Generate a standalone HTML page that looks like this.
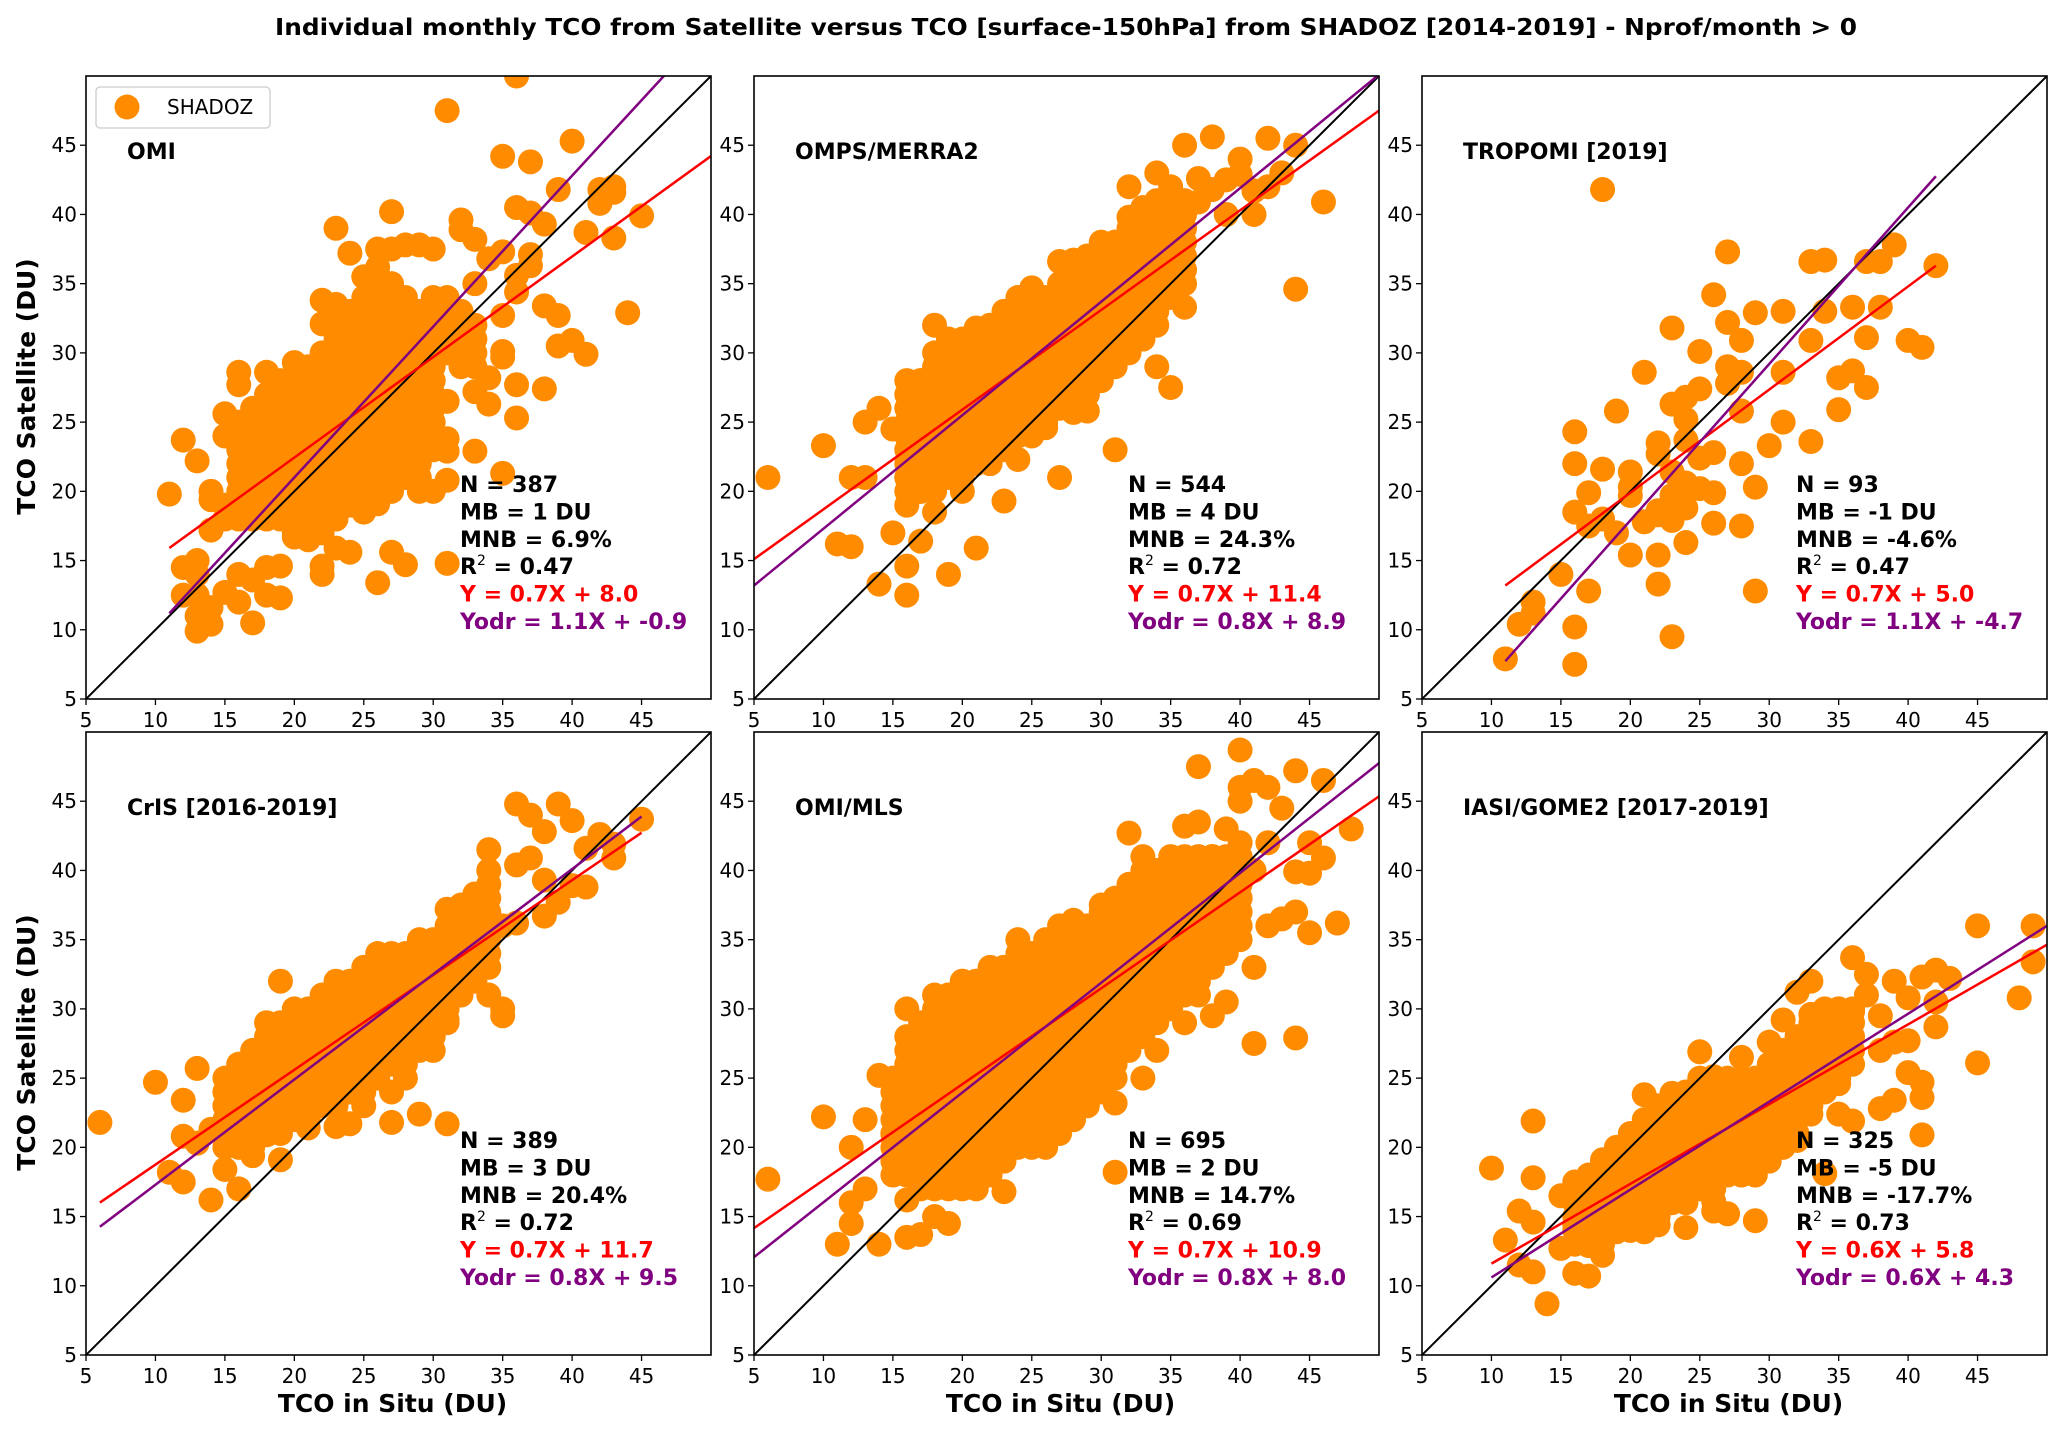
<!DOCTYPE html>
<html><head><meta charset="utf-8">
<style>
html,body{margin:0;padding:0;background:#fff;}
svg{display:block;font-family:"DejaVu Sans","Liberation Sans",sans-serif;}
</style></head>
<body>
<svg id="fig" width="2067" height="1432" viewBox="0 0 2067 1432" xmlns="http://www.w3.org/2000/svg">
<rect width="2067" height="1432" fill="#fff"/>
<text x="1066" y="35" text-anchor="middle" font-size="23" font-weight="bold" textLength="1582" lengthAdjust="spacingAndGlyphs">Individual monthly TCO from Satellite versus TCO [surface-150hPa] from SHADOZ [2014-2019] - Nprof/month &gt; 0</text>
</svg>
<script>
// ---- data ----
const ticks = [5,10,15,20,25,30,35,40,45];
const panelNames = ["OMI","OMPS/MERRA2","TROPOMI [2019]","CrIS [2016-2019]","OMI/MLS","IASI/GOME2 [2017-2019]"];
const statN = ["387","544","93","389","695","325"];
const statMB = ["1","4","-1","3","2","-5"];
const statMNB = ["6.9","24.3","-4.6","20.4","14.7","-17.7"];
const statR2 = ["0.47","0.72","0.47","0.72","0.69","0.73"];
const regLabel = ["0.7X + 8.0","0.7X + 11.4","0.7X + 5.0","0.7X + 11.7","0.7X + 10.9","0.6X + 5.8"];
const odrLabel = ["1.1X + -0.9","0.8X + 8.9","1.1X + -4.7","0.8X + 9.5","0.8X + 8.0","0.6X + 4.3"];
const regSlope = [0.726,0.72,0.745,0.685,0.693,0.576];
const regInt = [7.92,11.5,5.0,11.9,10.7,5.84];
const odrSlope = [1.09,0.82,1.13,0.76,0.793,0.635];
const odrInt = [-0.8,9.1,-4.7,9.7,8.1,4.25];
const lineXmin = [11,5,11,6,5,10];
const lineXmax = [55,55,42,45,55,55];

const omiPts = [[36,50],[31,47.5],[40,45.3],[35,44.2],[37,43.8],[39,41.8],[42,41.8],[43,42],[43,41.6],[42,40.8],[36,40.5],[37,40.1],[45,39.9],[38,39.3],[41,38.7],[43,38.3],[32,39.6],[32,38.9],[33,38.2],[27,40.2],[23,39],[24,37.2],[44,32.9],[38,33.4],[39,32.7],[35,32.7],[39,30.5],[40,30.9],[41,29.9],[35,29.7],[35,30.1],[36,27.7],[38,27.4],[34,28.2],[33,27.2],[34,26.3],[36,25.3],[33,22.9],[35,21.3],[31,14.8],[27,15.6],[28,14.7],[26,13.4],[23,15.9],[24,15.6],[22,14.6],[22,14],[21,16.5],[20,16.7],[19,14.6],[19,12.3],[18,12.5],[18,14.5],[17,10.5],[17,13.6],[16,12],[16,14],[15,12.7],[14,10.4],[13,9.9],[13,11],[14,11.6],[13,12.5],[12,12.5],[12,14.5],[13,15],[13,14],[14,17.2],[14,19.4],[14,20],[11,19.8],[12,23.7],[13,22.2],[16,23.3],[15,25.6],[16,27.7],[16,28.6],[18,28.6],[20,29.3],[31,20.8],[29,20],[30,20],[26,19.1],[25,18.5],[37,36.3],[37,37.1],[36,35.6],[36,34.4],[33,35],[34,36.8],[35,37.3],[30,37.5],[29,37.8],[28,37.8],[27,37.5],[26,37.5],[26,36.2],[25,35.5],[22,33.8],[23,33.5],[22,32.1],[31,26.5],[31,22.9],[31,23.8]];
const omiCoreX = [15,16,17,18,19,20,21,22,23,24,25,26,27,28,29,30,31,32,33];
const omiCoreY = [[18,19,24],[18,19,20,21,22,23,24,25],[18,19,20,21,22,23,24,25,26],[18,19,20,21,22,23,24,25,26,27],[18,19,20,21,22,23,24,25,26,27,28],[17,18,19,20,21,22,23,24,25,26,27,28],[17,18,19,20,21,22,23,24,25,26,27,28,29],[17,18,19,20,21,22,23,24,25,26,27,28,29,30],[18,19,20,21,22,23,24,25,26,27,28,29,30,31,32],[19,20,21,22,23,24,25,26,27,28,29,30,31,32,33],[20,21,22,23,24,25,26,27,28,29,30,31,32,33,34],[20,21,22,23,24,25,26,27,28,29,30,31,32,33,34,35],[20,21,22,23,24,25,26,27,28,29,30,31,32,33,34,35],[21,22,23,24,25,26,27,28,29,30,31,32,33,34],[21,22,23,24,25,26,27,28,29,30,31,32,33],[23,24,25,26,27,28,29,30,31,32,33,34],[30,31,32,33,34],[29,30,31,32,33],[29,30,31,32]];

const ompsPts = [[6,21],[10,23.3],[11,16.2],[12,16],[12,21],[13,21],[13,25],[14,26],[14,13.3],[15,17],[16,12.5],[16,14.6],[17,16.4],[19,14],[21,15.9],[23,19.3],[27,21],[31,23],[35,27.5],[34,29],[44,34.6],[46,40.9],[44,45],[42,45.5],[38,45.6],[36,45],[40,44],[43,43],[35,42],[34,43],[32,42],[37,40.9],[39,40],[41,40],[42,42],[36,33.3],[33,31],[32,30.5],[30,28],[29,27],[28,25.7],[29,25.8],[26,24.6],[24,22.3],[22,23],[20,20],[18,18.5],[17,20],[16,21],[15,24.5],[16,28],[17,28],[18,32],[19,31],[18,30],[20,31],[21,31.8],[22,32],[23,33],[24,34],[25,34.7],[27,36.6],[28,36.7],[30,37.3],[31,38],[32,39.8],[33,40.5],[35,40.7],[37,42.6],[38,41.8],[39,42.5],[40,42.9],[41,41.7]];
const ompsCoreX = [16,17,18,19,20,21,22,23,24,25,26,27,28,29,30,31,32,33,34,35,36];
const ompsCoreY = [[19,20,21,22,23,24,25,26,27],[20,21,22,23,24,25,26,27,28],[20,21,22,23,24,25,26,27,28,29],[21,22,23,24,25,26,27,28,29,30],[21,22,23,24,25,26,27,28,29,30],[22,23,24,25,26,27,28,29,30,31],[22,23,24,25,26,27,28,29,30,31],[23,24,25,26,27,28,29,30,31,32],[24,25,26,27,28,29,30,31,32,33],[24,25,26,27,28,29,30,31,32,33,34],[25,26,27,28,29,30,31,32,33,34],[26,27,28,29,30,31,32,33,34,35],[26,27,28,29,30,31,32,33,34,35,36],[27,28,29,30,31,32,33,34,35,36,37],[28,29,30,31,32,33,34,35,36,37,38],[29,30,31,32,33,34,35,36,37,38],[30,31,32,33,34,35,36,37,38,39],[31,32,33,34,35,36,37,38,39,40],[32,33,34,35,36,37,38,39,40,41],[34,35,36,37,38,39,40,41],[35,36,37,38,39,40,41]];

const tropPts = [[11,7.9],[12,10.4],[13,12],[13,11.2],[15,14],[16,10.2],[16,7.5],[17,12.8],[16,24.3],[16,22],[16,18.5],[17,19.9],[17,17.5],[18,21.6],[18,18],[18,41.8],[19,25.8],[19,17],[20,21.4],[20,20.3],[20,19.7],[20,15.4],[21,28.6],[21,17.8],[22,23.5],[22,22.7],[22,18.6],[22,15.4],[22,13.3],[23,31.8],[23,26.3],[23,21.4],[23,19.7],[23,17.9],[23,9.5],[24,26.8],[24,25.2],[24,23.7],[24,20.6],[24,18.8],[24,16.3],[25,30.1],[25,27.4],[25,22.4],[25,20.2],[26,34.2],[26,22.8],[26,19.9],[26,17.7],[27,37.3],[27,32.2],[27,29],[27,27.8],[28,30.9],[28,28.6],[28,25.8],[28,22],[28,17.5],[29,32.9],[29,20.3],[29,12.8],[30,23.3],[31,33],[31,28.6],[31,25],[33,36.6],[33,30.9],[33,23.6],[34,36.7],[34,33],[35,28.2],[35,25.9],[36,33.3],[36,28.7],[37,36.6],[37,31.1],[37,27.5],[38,36.6],[38,33.3],[39,37.8],[40,30.9],[41,30.4],[42,36.3],[23,19],[24,20],[22,18.3],[23,18.5]];
const tropCoreX = [];
const tropCoreY = [];

const crisPts = [[6,21.8],[10,24.7],[11,18.2],[12,17.5],[12,20.8],[12,23.4],[13,25.7],[13,20.3],[14,16.2],[14,21.3],[15,18.4],[16,17],[16,23],[16,26],[17,19.4],[18,20.9],[19,19.1],[19,32],[21,21.4],[23,21.5],[24,21.7],[27,21.8],[29,22.4],[28,25],[31,21.7],[35,29.5],[35,30],[34,31],[36,44.8],[37,44],[38,42.8],[39,44.8],[40,43.6],[41,41.6],[42,42.6],[43,41.9],[43,40.9],[45,43.7],[41,38.8],[39,37.7],[38,36.7],[36,36.2],[35,36],[33,33],[32,37.5],[33,38.3],[34,41.5],[36,40.4],[37,40.9],[38,39.3],[40,38.9],[34,40],[31,37.2],[30,34.8],[30,31.2],[29,30],[31,29.2],[30,27],[28,26],[27,24],[25,23],[26,25],[23,23],[22,25],[20,23.4]];
const crisCoreX = [15,16,17,18,19,20,21,22,23,24,25,26,27,28,29,30,31,32,33,34];
const crisCoreY = [[20,21,22,23,24,25],[20,21,22,23,24,25,26],[20,21,22,23,24,25,26,27],[21,22,23,24,25,26,27,28,29],[21,22,23,24,25,26,27,28,29],[22,23,24,25,26,27,28,29,30],[22,23,24,25,26,27,28,29,30],[23,24,25,26,27,28,29,30,31],[23,24,25,26,27,28,29,30,31,32],[24,25,26,27,28,29,30,31,32],[24,25,26,27,28,29,30,31,32,33],[25,26,27,28,29,30,31,32,33,34],[26,27,28,29,30,31,32,33,34],[27,28,29,30,31,32,33,34],[27,28,29,30,31,32,33,34,35],[28,29,30,31,32,33,34,35],[29,30,31,32,33,34,35,36],[31,32,33,34,35,36,37],[32,33,34,35,36,37,38],[33,34,35,36,37,38,39]];

const mlsPts = [[6,17.7],[10,22.2],[11,13],[12,14.5],[12,16],[12,20],[13,22],[13,17],[14,13],[14,25.2],[15,21],[16,13.5],[16,16.2],[17,13.7],[18,15],[19,14.5],[16,30],[17,28],[18,31],[19,31],[20,32],[21,32],[23,33],[24,35],[21,17],[23,16.8],[26,20],[28,22],[31,18.2],[31,23.2],[33,25],[34,27],[36,29],[38,29.5],[39,30.5],[41,27.5],[44,27.9],[45,35.5],[47,36.2],[48,43],[46,46.5],[44,47.2],[40,48.7],[40,46],[41,46.5],[42,46],[37,47.5],[36,43.2],[39,43],[42,42],[43,44.5],[45,42],[38,41],[35,40.5],[32,42.7],[33,41],[34,40],[30,37.5],[28,36.4],[27,36],[31,36],[41,33],[42,36],[43,36.5],[37,31],[44,37],[40,38],[41,40],[46,40.9],[45,39.8],[44,39.9],[40,45],[37,43.5]];
const mlsCoreX = [15,16,17,18,19,20,21,22,23,24,25,26,27,28,29,30,31,32,33,34,35,36,37,38,39,40];
const mlsCoreY = [[18,19,20,21,22,23,24,25],[18,19,20,21,22,23,24,25,26,27,28],[17,18,19,20,21,22,23,24,25,26,27,28,29],[17,18,19,20,21,22,23,24,25,26,27,28,29,30],[17,18,19,20,21,22,23,24,25,26,27,28,29,30,31],[17,18,19,20,21,22,23,24,25,26,27,28,29,30,31,32],[18,19,20,21,22,23,24,25,26,27,28,29,30,31,32],[18,19,20,21,22,23,24,25,26,27,28,29,30,31,32,33],[19,20,21,22,23,24,25,26,27,28,29,30,31,32,33],[20,21,22,23,24,25,26,27,28,29,30,31,32,33,34],[20,21,22,23,24,25,26,27,28,29,30,31,32,33,34],[21,22,23,24,25,26,27,28,29,30,31,32,33,34,35],[21,22,23,24,25,26,27,28,29,30,31,32,33,34,35],[22,23,24,25,26,27,28,29,30,31,32,33,34,35,36],[23,24,25,26,27,28,29,30,31,32,33,34,35,36],[24,25,26,27,28,29,30,31,32,33,34,35,36,37],[25,26,27,28,29,30,31,32,33,34,35,36,37,38],[27,28,29,30,31,32,33,34,35,36,37,38,39],[28,29,30,31,32,33,34,35,36,37,38,39,40],[29,30,31,32,33,34,35,36,37,38,39,40],[30,31,32,33,34,35,36,37,38,39,40,41],[31,32,33,34,35,36,37,38,39,40,41],[32,33,34,35,36,37,38,39,40,41],[33,34,35,36,37,38,39,40,41],[34,35,36,37,38,39,40,41],[35,36,37,38,39,40,41,42]];

const iasiPts = [[10,18.5],[11,13.3],[12,15.4],[12,11.5],[13,21.9],[13,17.8],[13,14.6],[13,11],[14,8.7],[15,16.5],[15,12.7],[16,17.5],[16,14.4],[16,10.9],[17,10.7],[17,12.9],[18,12.2],[18,19.1],[19,19.6],[19,13.9],[21,23.8],[21,13.9],[22,22.9],[22,14.4],[23,23.9],[24,14.2],[25,26.9],[26,25.1],[26,16.1],[26,15.4],[27,15.2],[28,26.5],[29,14.7],[30,27.6],[31,29.2],[32,31.2],[33,32],[33,29.6],[32,20.5],[33,22.4],[34,18.1],[35,30],[35,24.6],[35,22.4],[36,33.7],[36,29.8],[36,21.9],[37,32.5],[37,31],[38,29.5],[38,27],[38,22.8],[39,32],[39,27.6],[39,23.4],[40,27.7],[40,25.4],[40,30.8],[41,32.3],[41,24.7],[41,23.6],[41,20.9],[42,32.8],[42,30.5],[42,28.7],[43,32.2],[45,36],[45,26.1],[48,30.8],[49,36],[49,33.4]];
const iasiCoreX = [16,17,18,19,20,21,22,23,24,25,26,27,28,29,30,31,32,33,34,35,36];
const iasiCoreY = [[13,14,15,16,17],[13,14,15,16,17,18],[13,14,15,16,17,18,19],[14,15,16,17,18,19,20],[14,15,16,17,18,19,20,21],[15,16,17,18,19,20,21,22],[15,16,17,18,19,20,21,22,23],[16,17,18,19,20,21,22,23],[16,17,18,19,20,21,22,23,24],[17,18,19,20,21,22,23,24,25],[17,18,19,20,21,22,23,24,25],[18,19,20,21,22,23,24,25],[18,19,20,21,22,23,24,25],[18,19,20,21,22,23,24,25],[19,20,21,22,23,24,25,26],[20,21,22,23,24,25,26,27],[21,22,23,24,25,26,27,28],[23,24,25,26,27,28,29],[24,25,26,27,28,29,30],[25,26,27,28,29,30],[26,27,28,29,30]];

const allPts = [omiPts,ompsPts,tropPts,crisPts,mlsPts,iasiPts];
const allCoreX = [omiCoreX,ompsCoreX,tropCoreX,crisCoreX,mlsCoreX,iasiCoreX];
const allCoreY = [omiCoreY,ompsCoreY,tropCoreY,crisCoreY,mlsCoreY,iasiCoreY];

// ---- layout ----
const NS = "http://www.w3.org/2000/svg";
const svg = document.getElementById("fig");
const colL = [86,754,1422], rowT = [76,732];
const PW = 625, PH = 623, DMIN = 5, DMAX = 50, R = 12.5;
function mk(tag, attrs, parent){ const e=document.createElementNS(NS,tag); for(const k in attrs) e.setAttribute(k,attrs[k]); (parent||svg).appendChild(e); return e; }

for(let p=0;p<6;p++){
  const L = colL[p%3], T = rowT[Math.floor(p/3)];
  const sx = v => L + (v-DMIN)/(DMAX-DMIN)*PW;
  const sy = v => T + PH - (v-DMIN)/(DMAX-DMIN)*PH;
  const g = mk("g",{});
  
  
  const clip = mk("clipPath",{id:"clip"+p}, g);
  mk("rect",{x:L,y:T,width:PW,height:PH}, clip);
  const plot = mk("g",{"clip-path":"url(#clip"+p+")"}, g);
  const pts = [];
  allPts[p].forEach(d=>pts.push(d));
  allCoreX[p].forEach((x,i)=>allCoreY[p][i].forEach(y=>pts.push([x,y])));
  pts.forEach(d=>{
    const c = mk("circle",{cx:sx(d[0]),cy:sy(d[1]),r:R,fill:"#ff8c00"}, plot);
    
    
  });
  const l1 = mk("line",{x1:sx(DMIN),y1:sy(DMIN),x2:sx(DMAX),y2:sy(DMAX),stroke:"#000","stroke-width":2}, plot);
  
  
  const x0=lineXmin[p], x1=lineXmax[p];
  const lr = mk("line",{x1:sx(x0),y1:sy(regSlope[p]*x0+regInt[p]),x2:sx(x1),y2:sy(regSlope[p]*x1+regInt[p]),stroke:"#ff0000","stroke-width":2.5}, plot);
  
  
  const lo = mk("line",{x1:sx(x0),y1:sy(odrSlope[p]*x0+odrInt[p]),x2:sx(x1),y2:sy(odrSlope[p]*x1+odrInt[p]),stroke:"#800080","stroke-width":2.5}, plot);
  
  
  const fr = mk("rect",{x:L,y:T,width:PW,height:PH,fill:"none",stroke:"#000","stroke-width":1.6}, g);
  
  
  ticks.forEach(t=>{
    mk("line",{x1:sx(t),y1:T+PH,x2:sx(t),y2:T+PH+6,stroke:"#000","stroke-width":1.3}, g);
    const xt = mk("text",{x:sx(t),y:T+PH+28,"text-anchor":"middle","font-size":20}, g);
    xt.textContent = t;
    
    
    mk("line",{x1:L-6,y1:sy(t),x2:L,y2:sy(t),stroke:"#000","stroke-width":1.3}, g);
    const yt = mk("text",{x:L-9,y:sy(t)+7,"text-anchor":"end","font-size":20}, g);
    yt.textContent = t;
    
    
  });
  const pl = mk("text",{x:L+41,y:T+83,"font-size":22,"font-weight":"bold"}, g);
  pl.textContent = panelNames[p];
  
  
  const SX = L+374, SY0 = T+416, DY = 27.4;
  const lines = [
    ["N = "+statN[p],"#000"],["MB = "+statMB[p]+" DU","#000"],["MNB = "+statMNB[p]+"%","#000"],
    [null,"#000"],["Y = "+regLabel[p],"#ff0000"],["Yodr = "+odrLabel[p],"#800080"]];
  lines.forEach((ln,i)=>{
    const t = mk("text",{x:SX,y:SY0+i*DY,"font-size":22,"font-weight":"bold",fill:ln[1]}, g);
    if(ln[0]===null){
      t.appendChild(document.createTextNode("R"));
      const s = mk("tspan",{"font-size":14,dy:-9,"font-weight":"normal"}, t); s.textContent="2";
      const s2 = mk("tspan",{dy:9}, t); s2.textContent=" = "+statR2[p];
    } else t.textContent = ln[0];
    
    
  });
  if(p>=3){
    const xl = mk("text",{x:L+PW/2-6,y:T+PH+57,"text-anchor":"middle","font-size":25,"font-weight":"bold"}, g);
    xl.textContent = "TCO in Situ (DU)";
    
    
  }
  if(p%3===0){
    const cy = T+PH/2-1;
    const yl = mk("text",{x:0,y:0,"text-anchor":"middle","font-size":25,"font-weight":"bold",transform:"translate(35,"+cy+") rotate(-90)"}, g);
    yl.textContent = "TCO Satellite (DU)";
    
    
  }
  if(p===0){
    const lg = mk("g",{}, g);
    
    
    mk("rect",{x:96,y:87,width:174,height:41,rx:4,fill:"#fff",stroke:"#ccc","stroke-width":1.3}, lg);
    const lm = mk("circle",{cx:127,cy:107,r:R,fill:"#ff8c00"}, lg);
    
    
    const lt = mk("text",{x:167,y:114,"font-size":20}, lg);
    lt.textContent = "SHADOZ";
    
    
  }
}
</script>
</body></html>
